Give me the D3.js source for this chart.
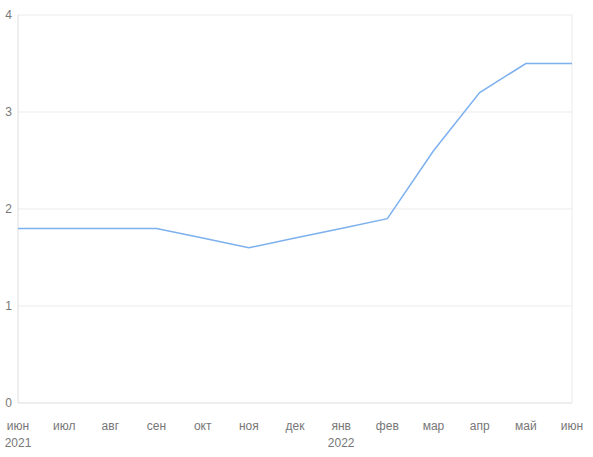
<!DOCTYPE html>
<html><head><meta charset="utf-8">
<script src="https://cdn.jsdelivr.net/npm/d3@7"></script>
<style>body{margin:0;background:#fff}text{font-family:Arial,"Liberation Sans",sans-serif;font-size:12px;fill:#777}</style>
</head><body><svg id="c" width="593" height="457"></svg>
<script>
const months = ["июн","июл","авг","сен","окт","ноя","дек","янв","фев","мар","апр","май","июн"];
const values = [1.8,1.8,1.8,1.8,1.7,1.6,1.7,1.8,1.9,2.6,3.2,3.5,3.5];
const yTicks = [0,1,2,3,4];
const years = [{i:0,label:"2021"},{i:7,label:"2022"}];

const svg = d3.select("#c");
const x = d3.scaleLinear().domain([0, months.length - 1]).range([18, 572]);
const y = d3.scaleLinear().domain([0, 4]).range([403, 15]);

svg.selectAll("line.grid").data(yTicks).enter().append("line")
    .attr("x1", 18).attr("x2", 572)
    .attr("y1", d => y(d)).attr("y2", d => y(d))
    .attr("stroke", d => d === 0 ? "#ddd" : "#ebebeb");
svg.append("line").attr("x1", 18).attr("x2", 18).attr("y1", 15).attr("y2", 403).attr("stroke", "#ddd");
svg.append("line").attr("x1", 572).attr("x2", 572).attr("y1", 15).attr("y2", 403).attr("stroke", "#ebebeb");

svg.selectAll("text.yt").data(yTicks).enter().append("text")
    .attr("x", 12).attr("y", d => y(d) + 4).attr("text-anchor", "end").text(d => d);

svg.selectAll("text.xt").data(months).enter().append("text")
    .attr("x", (d, i) => x(i)).attr("y", 430).attr("text-anchor", "middle").text(d => d);
svg.selectAll("text.yr").data(years).enter().append("text")
    .attr("x", d => x(d.i)).attr("y", 447).attr("text-anchor", "middle").text(d => d.label);

svg.append("path").datum(values)
    .attr("d", d3.line().x((d, i) => x(i)).y(d => y(d)))
    .attr("fill", "none").attr("stroke", "#7cb0ef").attr("stroke-width", 1.5);
</script></body></html>
